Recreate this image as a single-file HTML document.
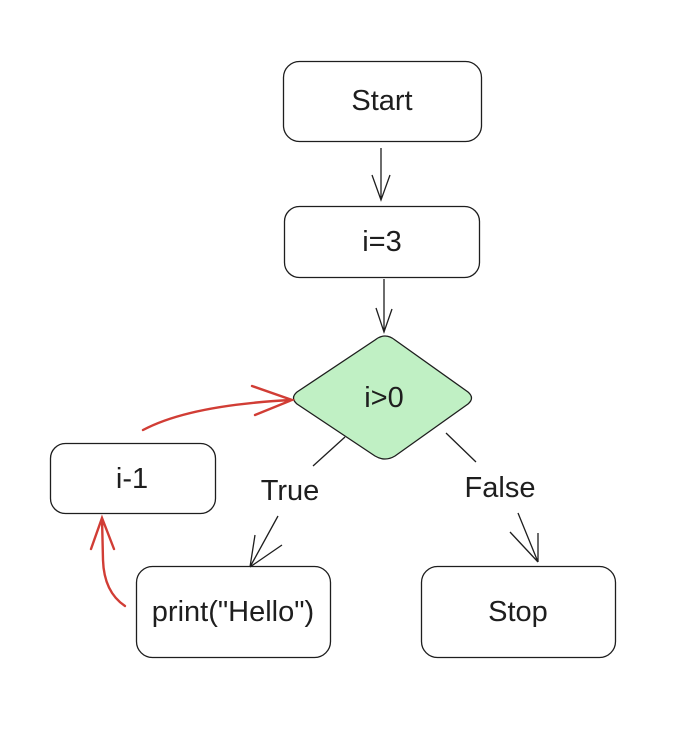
<!DOCTYPE html>
<html><head><style>
body{margin:0;background:#fff;}
svg text{font-family:"Liberation Sans",sans-serif;font-size:29px;fill:#1e1e1e;text-anchor:middle;dominant-baseline:central;}
</style></head><body>
<svg width="688" height="736" viewBox="0 0 688 736">
<rect width="688" height="736" fill="#fff"/>
<g fill="none" stroke="#1e1e1e" stroke-width="1.3">
<rect x="283.5" y="61.5" width="198" height="80" rx="16"/>
<rect x="284.5" y="206.5" width="195" height="71" rx="15"/>
<path d="M385 336 Q380 336 375 340 L297 392 Q290 398 297 404 L375 456 Q385 462 395 456 L468 404 Q475 398 468 392 L395 340 Q390 336 385 336 Z" fill="#c0f0c4"/>
<rect x="50.5" y="443.5" width="165" height="70" rx="15"/>
<rect x="136.5" y="566.5" width="194" height="91" rx="16"/>
<rect x="421.5" y="566.5" width="194" height="91" rx="16"/>
<path d="M381 148 L381 200 M372 175 L381 200 L390 175"/>
<path d="M384 279 L384 332 M376 308 L384 332 L392 309"/>
<path d="M345 437 L313 466"/>
<path d="M278 516 L250 567 M255 535 L250 567 M282 545 L250 567"/>
<path d="M446 433 L476 462"/>
<path d="M518 513 L538 562 M510 532 L538 562 M538 533 L538 562"/>
</g>
<g fill="none" stroke="#d13d35" stroke-width="2.4" stroke-linecap="round">
<path d="M125 606 Q104 592 103 560 L102 518 M91 549 L102 518 L114 549"/>
<path d="M143 430 Q190 405 292 400 M252 386 L292 400 L255 415"/>
</g>
<text x="382" y="101">Start</text>
<text x="382" y="242">i=3</text>
<text x="384" y="398">i&gt;0</text>
<text x="132" y="479">i-1</text>
<text x="290" y="491">True</text>
<text x="500" y="488">False</text>
<text x="233" y="612">print("Hello")</text>
<text x="518" y="612">Stop</text>
</svg>
</body></html>
